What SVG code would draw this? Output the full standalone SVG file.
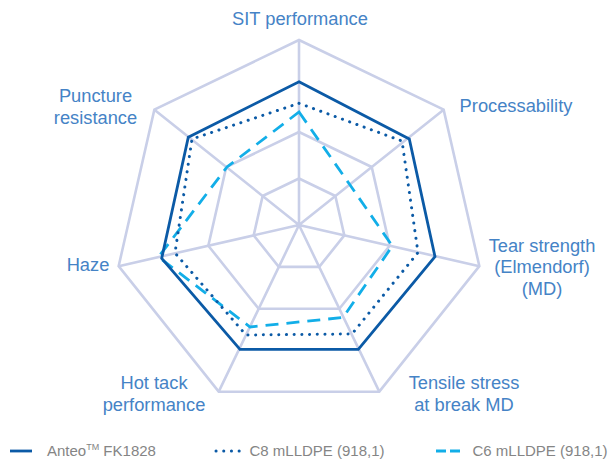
<svg xmlns="http://www.w3.org/2000/svg" width="611" height="462" viewBox="0 0 611 462">
<style>
.grid{fill:none;stroke:#c9cfe8;stroke-width:2.6;stroke-linejoin:miter}
.anteo{fill:none;stroke:#0b5aa6;stroke-width:2.8;stroke-linejoin:miter}
.c8{fill:none;stroke:#0b5aa6;stroke-width:3;stroke-linecap:round;stroke-dasharray:0.1 7.6}
.c6{fill:none;stroke:#12aee8;stroke-width:2.8;stroke-dasharray:13 8}
.lbl{font-family:"Liberation Sans",Arial,sans-serif;font-size:18.3px;fill:#4583c6;text-anchor:middle}
.leg{font-family:"Liberation Sans",Arial,sans-serif;font-size:15px;fill:#858585}
</style>
<rect width="611" height="462" fill="#ffffff"/>
<g id="grid">
<polygon class="grid" points="299,40 443.64,109.65 479.36,266.17 379.27,391.68 218.73,391.68 118.64,266.17 154.36,109.65"/>
<polygon class="grid" points="299,132 371.71,167.02 389.67,245.69 339.35,308.79 258.65,308.79 208.33,245.69 226.29,167.02"/>
<polygon class="grid" points="299,178.5 335.35,196.01 344.33,235.35 319.18,266.9 278.82,266.9 253.67,235.35 262.65,196.01"/>
<path class="grid" d="M299,225L299,40M299,225L443.64,109.65M299,225L479.36,266.17M299,225L379.27,391.68M299,225L218.73,391.68M299,225L118.64,266.17M299,225L154.36,109.65"/>
</g>
<g id="series">
<polygon id="c6" class="c6" points="299,112 349.7,184.5 392.3,246 343,317.5 250,327 158.5,257 227,167"/>
<polygon id="c8" class="c8" points="299,103.3 402,141 418,252.5 352,334 246,335 175,253 192,139"/>
<polygon id="anteo" class="anteo" points="299,81.7 409.3,139 435,256.7 358.3,349.3 240,349.3 161.7,258.3 188.3,137.3"/>
</g>
<g id="labels">
<text class="lbl" x="300" y="25">SIT performance</text>
<text class="lbl" x="516" y="112">Processability</text>
<text class="lbl" x="542" y="251.5">Tear strength</text>
<text class="lbl" x="542" y="273">(Elmendorf)</text>
<text class="lbl" x="542" y="295">(MD)</text>
<text class="lbl" x="464" y="388.5">Tensile stress</text>
<text class="lbl" x="464" y="410.5">at break MD</text>
<text class="lbl" x="154" y="389">Hot tack</text>
<text class="lbl" x="154" y="410.5">performance</text>
<text class="lbl" x="88" y="270.5">Haze</text>
<text class="lbl" x="95.5" y="101.5">Puncture</text>
<text class="lbl" x="95.5" y="123.5">resistance</text>
</g>
<g id="legend">
<line x1="10" y1="451" x2="32" y2="451" class="anteo"/>
<text class="leg" x="47" y="456">Anteo<tspan font-size="9" dy="-6">TM</tspan><tspan dy="6"> FK1828</tspan></text>
<line x1="216" y1="451" x2="241" y2="451" class="c8"/>
<text class="leg" x="249.5" y="456">C8 mLLDPE (918,1)</text>
<line x1="436" y1="451" x2="460" y2="451" class="c6" style="stroke-dasharray:10 4"/>
<text class="leg" x="472.5" y="456">C6 mLLDPE (918,1)</text>
</g>
</svg>
